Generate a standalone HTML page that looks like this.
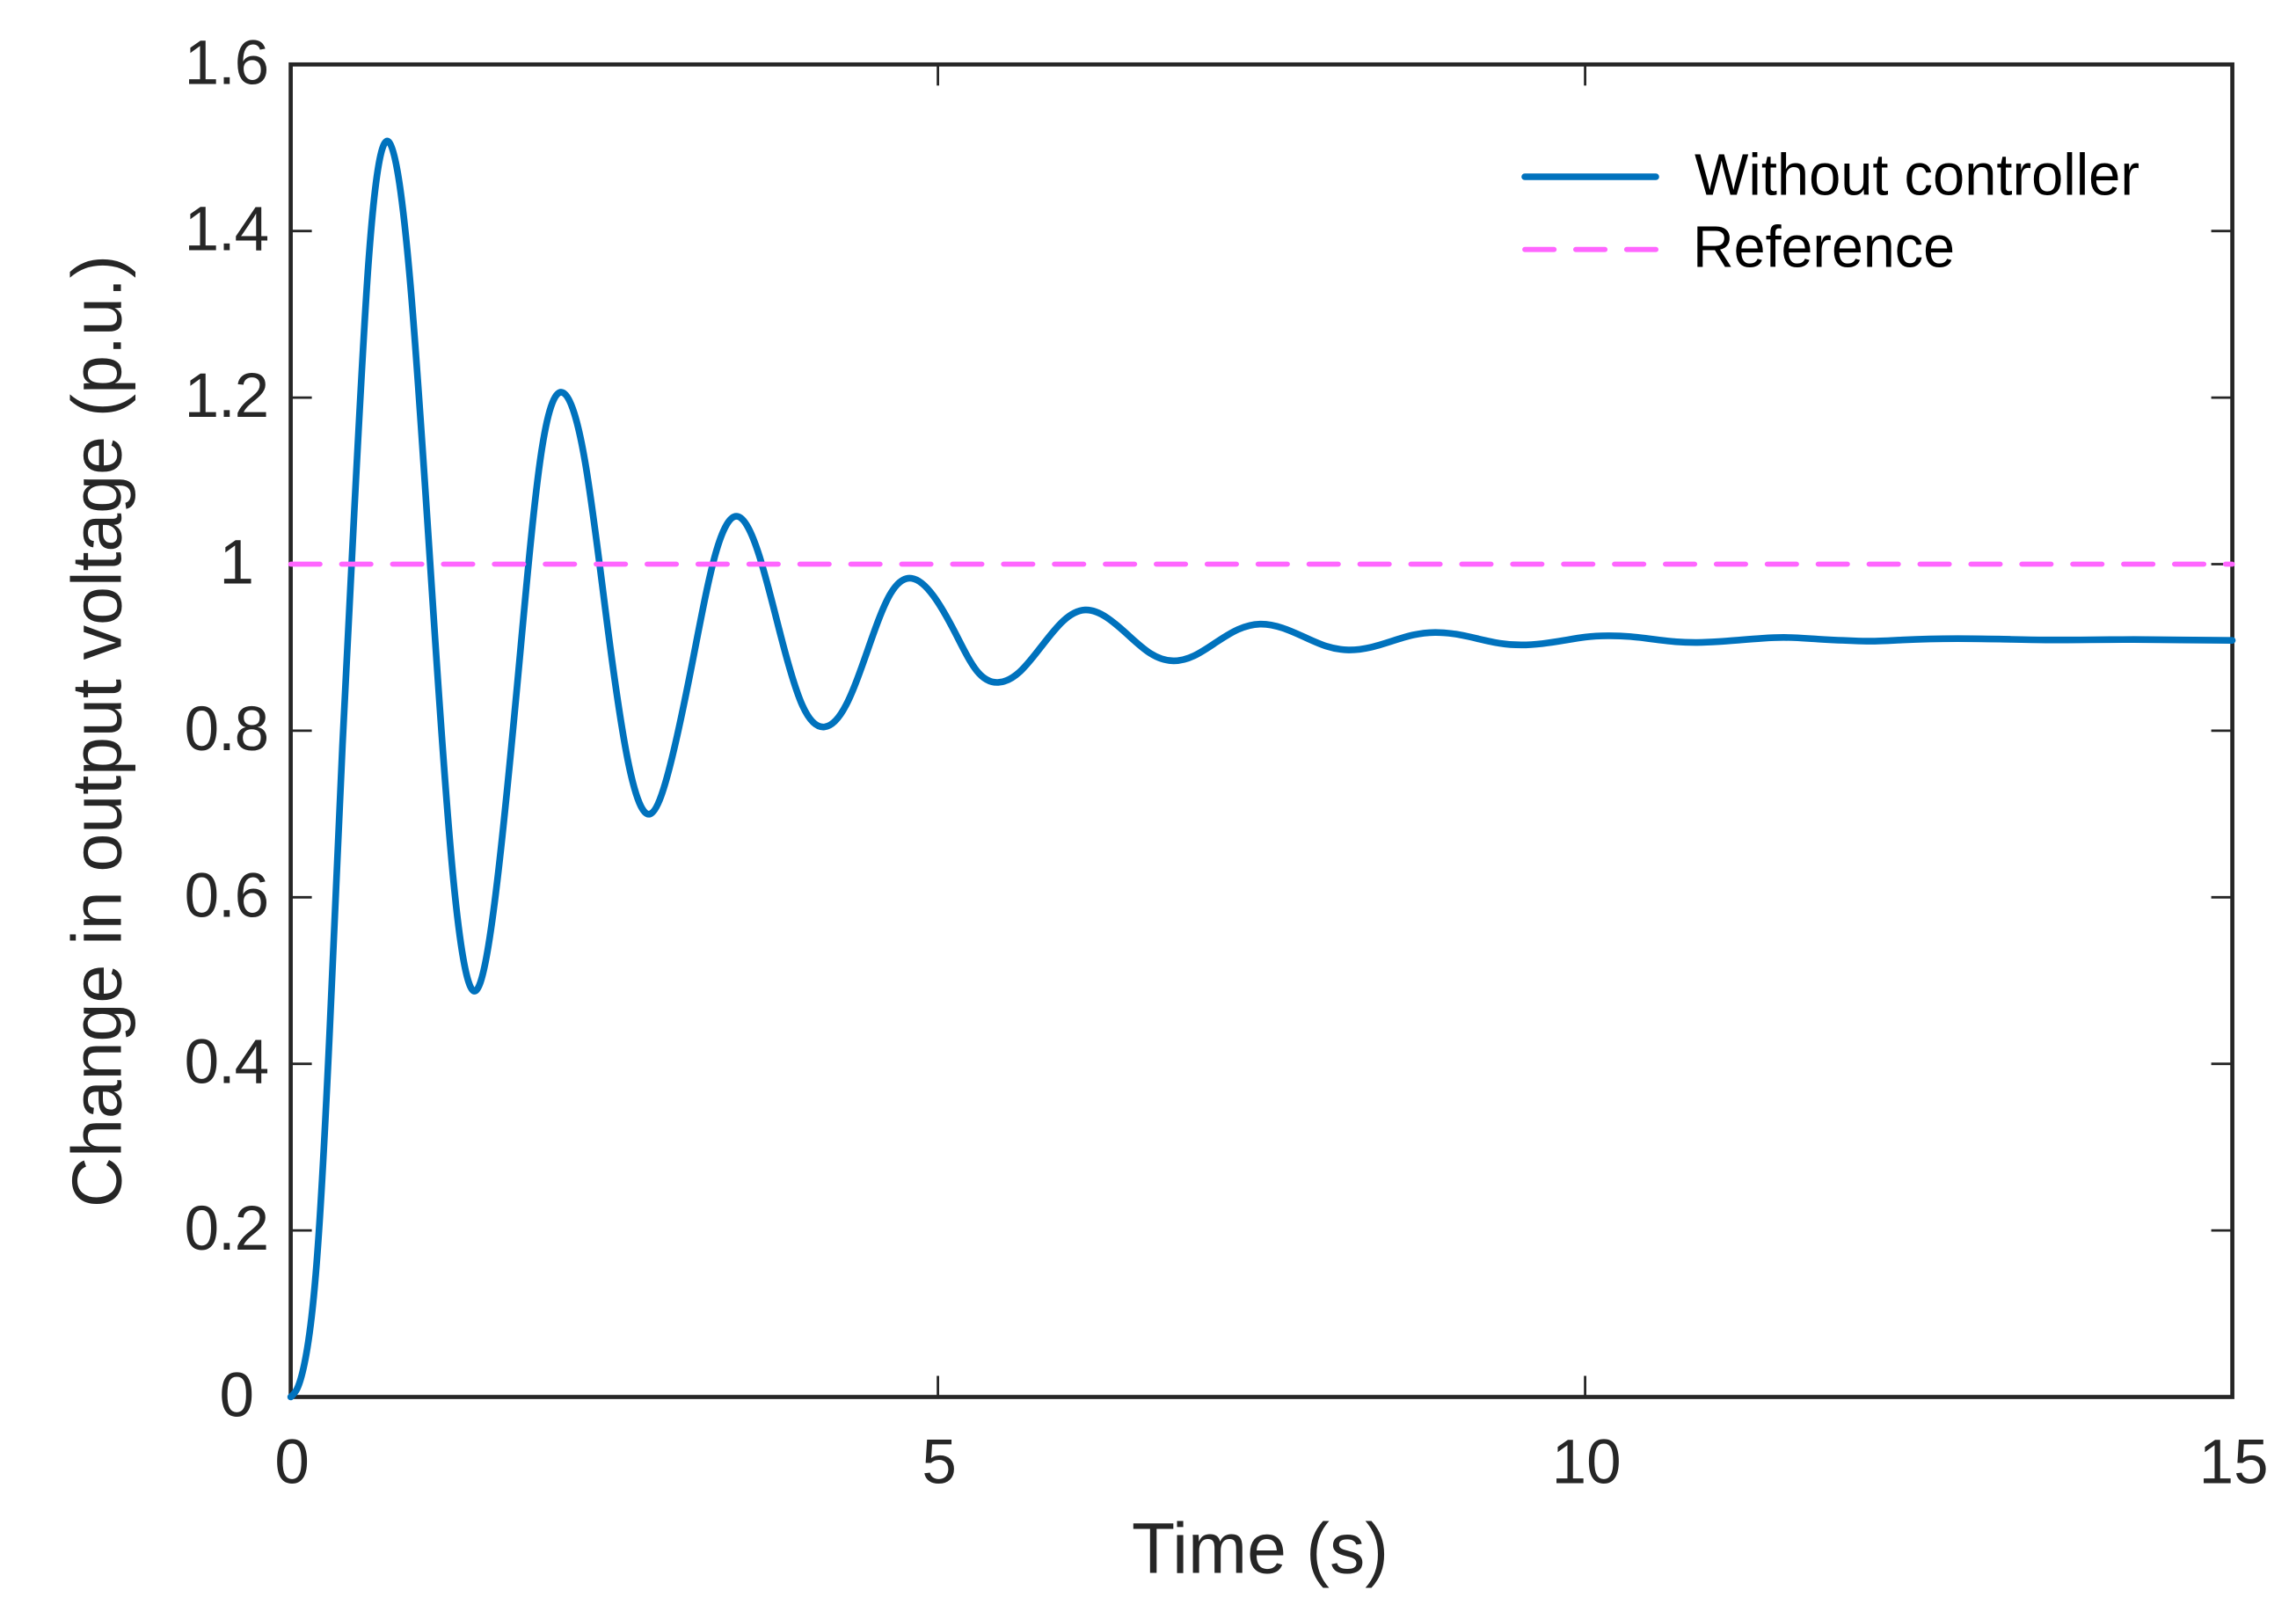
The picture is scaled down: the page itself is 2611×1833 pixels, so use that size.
<!DOCTYPE html>
<html lang="en">
<head>
<meta charset="utf-8">
<title>Change in output voltage</title>
<style>
html,body{margin:0;padding:0;background:#fff;width:2611px;height:1833px;overflow:hidden}
svg{display:block}
text{font-family:"Liberation Sans",Arial,sans-serif;fill:#262626}
</style>
</head>
<body>
<svg id="chart" xmlns="http://www.w3.org/2000/svg" width="2611" height="1833" viewBox="0 0 2611 1833">
  <rect x="0" y="0" width="2611" height="1833" fill="#fff"/>
  <g id="ticks"></g>
  <g id="tick-labels"></g>
  <rect x="330.6" y="73.3" width="2208" height="1515.2" fill="none" stroke="#262626" stroke-width="4.7"/>
  <path id="response-line" fill="none" stroke="#0072BD" stroke-width="7.6" stroke-linecap="round" stroke-linejoin="round"/>
  <line id="reference-line" stroke="#FF66FF" stroke-width="5.8" stroke-linecap="round" stroke-dasharray="33.3 24.6"/>
  <text x="1433" y="1788.3" text-anchor="middle" font-size="82" textLength="292" lengthAdjust="spacingAndGlyphs">Time (s)</text>
  <text transform="translate(137.5,831.5) rotate(-90)" text-anchor="middle" font-size="80" textLength="1083" lengthAdjust="spacingAndGlyphs">Change in output voltage (p.u.)</text>
  <g>
    <line x1="1734" y1="201" x2="1883" y2="201" stroke="#0072BD" stroke-width="7.6" stroke-linecap="round"/>
    <text x="1927" y="221.7" font-size="67" textLength="506" lengthAdjust="spacingAndGlyphs" style="fill:#000">Without controller</text>
    <line x1="1734" y1="283.7" x2="1885" y2="283.7" stroke="#FF66FF" stroke-width="5.8" stroke-linecap="round" stroke-dasharray="33.3 24.6"/>
    <text x="1925" y="303.3" font-size="67" textLength="298" lengthAdjust="spacingAndGlyphs" style="fill:#000">Reference</text>
  </g>
</svg>
<script>
// Data
const timeSeconds = [0,0.05,0.106,0.2,0.3,0.4,0.5,0.6,0.68,0.756,0.84,0.924,1.091,1.258,1.426,1.596,1.766,1.936,2.106,2.274,2.441,2.609,2.776,2.945,3.113,3.281,3.45,3.618,3.786,3.954,4.122,4.291,4.46,4.628,4.797,4.965,5.132,5.3,5.467,5.634,5.801,5.969,6.136,6.304,6.472,6.64,6.809,6.979,7.148,7.318,7.488,7.659,7.83,8.0,8.171,8.34,8.505,8.672,8.84,9.0,9.17,9.34,9.505,9.67,9.84,10.0,10.176,10.35,10.52,10.69,10.867,11.03,11.2,11.37,11.535,11.8,12.07,12.2,12.45,12.88,13.2,13.56,13.9,14.24,14.6,15];
const outputVoltage = [0,0.01,0.04,0.16,0.436,0.783,1.09,1.36,1.48,1.5073,1.457,1.337,0.968,0.619,0.4875,0.62,0.882,1.134,1.2057,1.123,0.933,0.761,0.7,0.767,0.89,1.012,1.0574,1.011,0.914,0.83,0.8045,0.831,0.898,0.963,0.983,0.962,0.918,0.872,0.858,0.871,0.9015,0.932,0.945,0.936,0.9145,0.893,0.884,0.89,0.906,0.9215,0.928,0.9235,0.9125,0.9015,0.897,0.9,0.9075,0.915,0.918,0.916,0.9105,0.905,0.903,0.9046,0.9085,0.9124,0.914,0.913,0.91,0.907,0.906,0.907,0.909,0.911,0.912,0.91,0.908,0.9075,0.909,0.9106,0.91,0.909,0.9092,0.9095,0.909,0.9085];
const referenceLevel = 1;
const xTickValues = [0,5,10,15];
const xTickLabels = ["0","5","10","15"];
const yTickValues = [0,0.2,0.4,0.6,0.8,1,1.2,1.4,1.6];
const yTickLabels = ["0","0.2","0.4","0.6","0.8","1","1.2","1.4","1.6"];

// Axis functions
const X_LEFT = 330.6, X_RIGHT = 2538.6, Y_BOTTOM = 1588.5, Y_TOP = 73.3;
const xDomain = [0, 15], yDomain = [0, 1.6];
function xScale(t){ return X_LEFT + (t - xDomain[0]) / (xDomain[1] - xDomain[0]) * (X_RIGHT - X_LEFT); }
function yScale(v){ return Y_BOTTOM - (v - yDomain[0]) / (yDomain[1] - yDomain[0]) * (Y_BOTTOM - Y_TOP); }

const NS = "http://www.w3.org/2000/svg";
const ticksGroup = document.getElementById("ticks");
const labelsGroup = document.getElementById("tick-labels");

function tickLine(x1, y1, x2, y2, width){
  const el = document.createElementNS(NS, "line");
  el.setAttribute("x1", x1); el.setAttribute("y1", y1);
  el.setAttribute("x2", x2); el.setAttribute("y2", y2);
  el.setAttribute("stroke", "#262626");
  el.setAttribute("stroke-width", width);
  
  
  ticksGroup.appendChild(el);
}
function tickText(str, x, y, anchor, spacing){
  const el = document.createElementNS(NS, "text");
  el.setAttribute("x", x); el.setAttribute("y", y);
  el.setAttribute("text-anchor", anchor);
  el.setAttribute("font-size", "71");
  el.setAttribute("letter-spacing", spacing);
  el.textContent = str;
  
  
  labelsGroup.appendChild(el);
}

const TICK_LEN = 24;
yTickValues.forEach(function(v, i){
  const y = yScale(v);
  if (v > yDomain[0] && v < yDomain[1]) {
    tickLine(X_LEFT, y, X_LEFT + TICK_LEN, y, 2.8);
    tickLine(X_RIGHT, y, X_RIGHT - TICK_LEN, y, 2.8);
  }
  const isDecimal = yTickLabels[i].indexOf(".") >= 0;
  tickText(yTickLabels[i], isDecimal ? 305 : 289, y + 22, "end", isDecimal ? "-1.1" : "0");
});
xTickValues.forEach(function(t, i){
  const x = xScale(t);
  if (t > xDomain[0] && t < xDomain[1]) {
    tickLine(x, Y_BOTTOM, x, Y_BOTTOM - TICK_LEN, 2.8);
    tickLine(x, Y_TOP, x, Y_TOP + TICK_LEN, 2.8);
  }
  tickText(xTickLabels[i], x + 1.5, 1686.5, "middle", "0");
});

// Natural cubic spline through the read points, emitted as Bezier segments
function splinePath(xs, ys){
  const n = xs.length, h = [], d = [];
  for (let i = 0; i < n - 1; i++) { h.push(xs[i + 1] - xs[i]); d.push((ys[i + 1] - ys[i]) / h[i]); }
  const c = new Array(n).fill(0), r = new Array(n).fill(0), M = new Array(n).fill(0);
  for (let i = 1; i < n - 1; i++) {
    const a = h[i - 1], b = 2 * (h[i - 1] + h[i]), g = h[i];
    const den = b - a * c[i - 1];
    c[i] = g / den;
    r[i] = (6 * (d[i] - d[i - 1]) - a * r[i - 1]) / den;
  }
  for (let i = n - 2; i >= 1; i--) M[i] = r[i] - c[i] * M[i + 1];
  let path = "M" + xs[0].toFixed(2) + " " + ys[0].toFixed(2);
  for (let i = 0; i < n - 1; i++) {
    const m0 = d[i] - h[i] * (2 * M[i] + M[i + 1]) / 6;
    const m1 = d[i] + h[i] * (M[i] + 2 * M[i + 1]) / 6;
    const k = h[i] / 3;
    path += "C" + (xs[i] + k).toFixed(2) + " " + (ys[i] + m0 * k).toFixed(2) + " " +
            (xs[i + 1] - k).toFixed(2) + " " + (ys[i + 1] - m1 * k).toFixed(2) + " " +
            xs[i + 1].toFixed(2) + " " + ys[i + 1].toFixed(2);
  }
  return path;
}
document.getElementById("response-line").setAttribute("d", splinePath(timeSeconds.map(xScale), outputVoltage.map(yScale)));

const refLine = document.getElementById("reference-line");
refLine.setAttribute("x1", xScale(xDomain[0]));
refLine.setAttribute("x2", xScale(xDomain[1]));
refLine.setAttribute("y1", yScale(referenceLevel));
refLine.setAttribute("y2", yScale(referenceLevel));
</script>
</body>
</html>
